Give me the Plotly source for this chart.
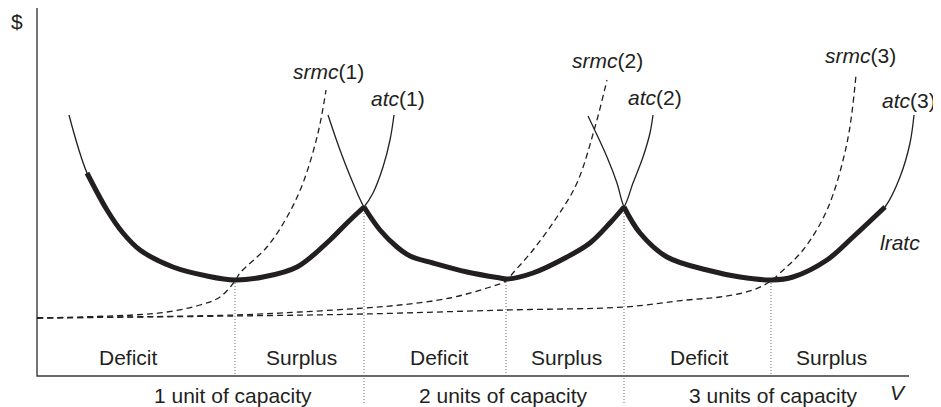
import plotly.graph_objects as go

# Values (V = volume, $ = cost), arbitrary chart units
atc1_v = [32, 50, 70, 86, 103, 136, 170, 198, 226, 260, 293, 310, 327, 336, 346, 353, 357]
atc1_c = [261, 203, 166, 143, 126, 109, 100, 96, 99, 109, 136, 153, 169, 183, 209, 236, 261]

atc2_v = [291, 303, 316, 327, 343, 360, 373, 396, 430, 463, 470, 496, 530, 553, 573, 587, 596, 606, 613, 616]
atc2_c = [261, 226, 193, 169, 146, 129, 120, 113, 104, 98, 97, 103, 119, 133, 153, 169, 193, 219, 243, 261]

atc3_v = [551, 570, 580, 587, 603, 630, 670, 703, 735, 756, 790, 816, 848, 863, 873, 877]
atc3_c = [260, 219, 193, 169, 143, 119, 106, 99, 96, 99, 116, 139, 169, 199, 233, 261]

srmc1_v = [0, 96, 130, 163, 183, 198, 203, 230, 250, 266, 281, 289]
srmc1_c = [58, 61, 64, 71, 79, 95, 103, 129, 159, 193, 243, 286]

srmc2_v = [0, 198, 263, 327, 363, 413, 450, 469, 476, 496, 520, 540, 558, 570]
srmc2_c = [58, 61, 64, 68, 71, 78, 88, 95, 103, 126, 159, 193, 249, 296]

srmc3_v = [0, 198, 327, 469, 587, 650, 683, 716, 734, 743, 766, 790, 810, 819]
srmc3_c = [58, 60, 62, 66, 69, 76, 79, 86, 95, 103, 126, 166, 233, 301]

# lratc ranges on each atc curve
lratc_ranges = [(50, 327), (327, 587), (587, 848)]

# capacity boundaries (atc crossings) and atc minima
boundary_v = [327, 587]
boundary_c = [169, 169]
minima_v = [198, 469, 734]
minima_c = [96, 97, 96]

V_MAX = 872
C_MAX = 368

region_labels = ["Deficit", "Surplus", "Deficit", "Surplus", "Deficit", "Surplus"]
region_v = [91, 264, 402, 529, 662, 794]
capacity_labels = ["1 unit of capacity", "2 units of capacity", "3 units of capacity"]
capacity_v = [196, 466, 736]

INK = "#231f20"
FONT = "Liberation Sans, Arial, sans-serif"
FS = 21

fig = go.Figure()

# axes lines
fig.add_trace(go.Scatter(x=[0, 0, V_MAX], y=[C_MAX, 0, 0], mode="lines",
                         line=dict(color="#3a3a3a", width=1.4), hoverinfo="skip"))

# dotted verticals
for v, c in zip(minima_v, minima_c):
    fig.add_trace(go.Scatter(x=[v, v], y=[c, -1], mode="lines",
                             line=dict(color="#666666", width=1, dash="1px,2px"), hoverinfo="skip"))
for v, c in zip(boundary_v, boundary_c):
    fig.add_trace(go.Scatter(x=[v, v], y=[c, -27], mode="lines",
                             line=dict(color="#666666", width=1, dash="1px,2px"), hoverinfo="skip"))

# srmc dashed curves
for vv, cc in [(srmc1_v, srmc1_c), (srmc2_v, srmc2_c), (srmc3_v, srmc3_c)]:
    fig.add_trace(go.Scatter(x=vv, y=cc, mode="lines", line_shape="spline",
                             line=dict(color=INK, width=1.3, dash="6px,4px"), hoverinfo="skip"))

# atc thin curves
atcs = [(atc1_v, atc1_c), (atc2_v, atc2_c), (atc3_v, atc3_c)]
for vv, cc in atcs:
    fig.add_trace(go.Scatter(x=vv, y=cc, mode="lines", line_shape="spline",
                             line=dict(color=INK, width=1.3), hoverinfo="skip"))

# lratc thick envelope
for (vv, cc), (lo, hi) in zip(atcs, lratc_ranges):
    sv = [v for v in vv if lo <= v <= hi]
    sc = [c for v, c in zip(vv, cc) if lo <= v <= hi]
    fig.add_trace(go.Scatter(x=sv, y=sc, mode="lines", line_shape="spline",
                             line=dict(color=INK, width=5), hoverinfo="skip"))

ann = []
def label(text, x, y):
    ann.append(dict(text=text, x=x, y=y, xref="x", yref="y", showarrow=False,
                    xanchor="center", yanchor="middle",
                    font=dict(family=FONT, size=FS, color=INK)))

label("$", -20, 355)
label("<i>srmc</i>(1)", 291, 305)
label("<i>atc</i>(1)", 361, 278)
label("<i>srmc</i>(2)", 570, 316)
label("<i>atc</i>(2)", 618, 279)
label("<i>srmc</i>(3)", 823, 321)
label("<i>atc</i>(3)", 872, 276)
label("<i>lratc</i>", 863, 134)
label("<i>V</i>", 861, -16)
for t, v in zip(region_labels, region_v):
    label(t, v, 19)
for t, v in zip(capacity_labels, capacity_v):
    label(t, v, -19)

# page body has an 8px margin, so the ranges are offset by 8px
fig.update_layout(
    width=941, height=407,
    margin=dict(l=0, r=0, t=0, b=0),
    paper_bgcolor="white", plot_bgcolor="white",
    showlegend=False,
    xaxis=dict(range=[-29, 912], visible=False, fixedrange=True),
    yaxis=dict(range=[-39, 368], visible=False, fixedrange=True),
    annotations=ann,
)

fig.write_html("out.html")
